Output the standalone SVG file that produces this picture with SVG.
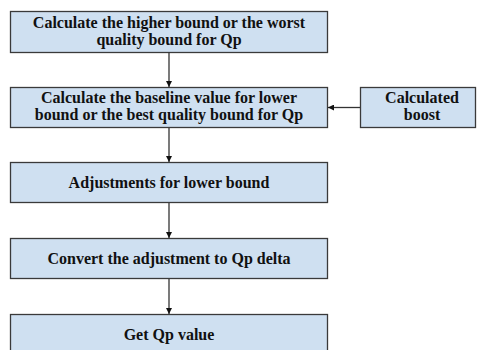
<svg xmlns="http://www.w3.org/2000/svg" width="477" height="350" viewBox="0 0 477 350">
  <style>
    .box { fill: #cfe0f1; stroke: #3a3a3a; stroke-width: 1.3; }
    .lbl { font-family: "Liberation Serif", "Times New Roman", serif; font-weight: bold; font-size: 16px; fill: #111; text-anchor: middle; }
    .link { stroke: #333; stroke-width: 1.3; fill: none; marker-end: url(#head); }
  </style>
  <defs>
    <marker id="head" viewBox="0 0 10 10" refX="10" refY="5" markerWidth="6" markerHeight="6" markerUnits="userSpaceOnUse" orient="auto">
      <path d="M0,0 L10,5 L0,10 Z" fill="#111"/>
    </marker>
  </defs>
  <rect width="477" height="350" fill="#ffffff"/>

  <g id="upper-bound">
    <rect class="box" x="10.5" y="11.5" width="317" height="41"/>
    <text class="lbl" x="169" y="27.5">Calculate the higher bound or the worst</text>
    <text class="lbl" x="169" y="44.5">quality bound for Qp</text>
  </g>

  <g id="baseline">
    <rect class="box" x="10.5" y="87.5" width="317" height="40"/>
    <text class="lbl" x="169" y="103">Calculate the baseline value for lower</text>
    <text class="lbl" x="169" y="120">bound or the best quality bound for Qp</text>
  </g>

  <g id="boost">
    <rect class="box" x="360.5" y="87.5" width="115" height="40"/>
    <text class="lbl" x="422" y="103">Calculated</text>
    <text class="lbl" x="422" y="120">boost</text>
  </g>

  <g id="adjustments">
    <rect class="box" x="10.5" y="162.5" width="317" height="40"/>
    <text class="lbl" x="169" y="188">Adjustments for lower bound</text>
  </g>

  <g id="convert">
    <rect class="box" x="10.5" y="238.5" width="317" height="40"/>
    <text class="lbl" x="169" y="264">Convert the adjustment to Qp delta</text>
  </g>

  <g id="result">
    <rect class="box" x="10.5" y="314.5" width="317" height="45"/>
    <text class="lbl" x="169" y="340">Get Qp value</text>
  </g>

  <g id="connectors">
    <line class="link" x1="169" y1="52" x2="169" y2="87"/>
    <line class="link" x1="360" y1="107.5" x2="328" y2="107.5"/>
    <line class="link" x1="169" y1="128" x2="169" y2="162"/>
    <line class="link" x1="169" y1="203" x2="169" y2="238"/>
    <line class="link" x1="169" y1="279" x2="169" y2="314"/>
  </g>
</svg>
